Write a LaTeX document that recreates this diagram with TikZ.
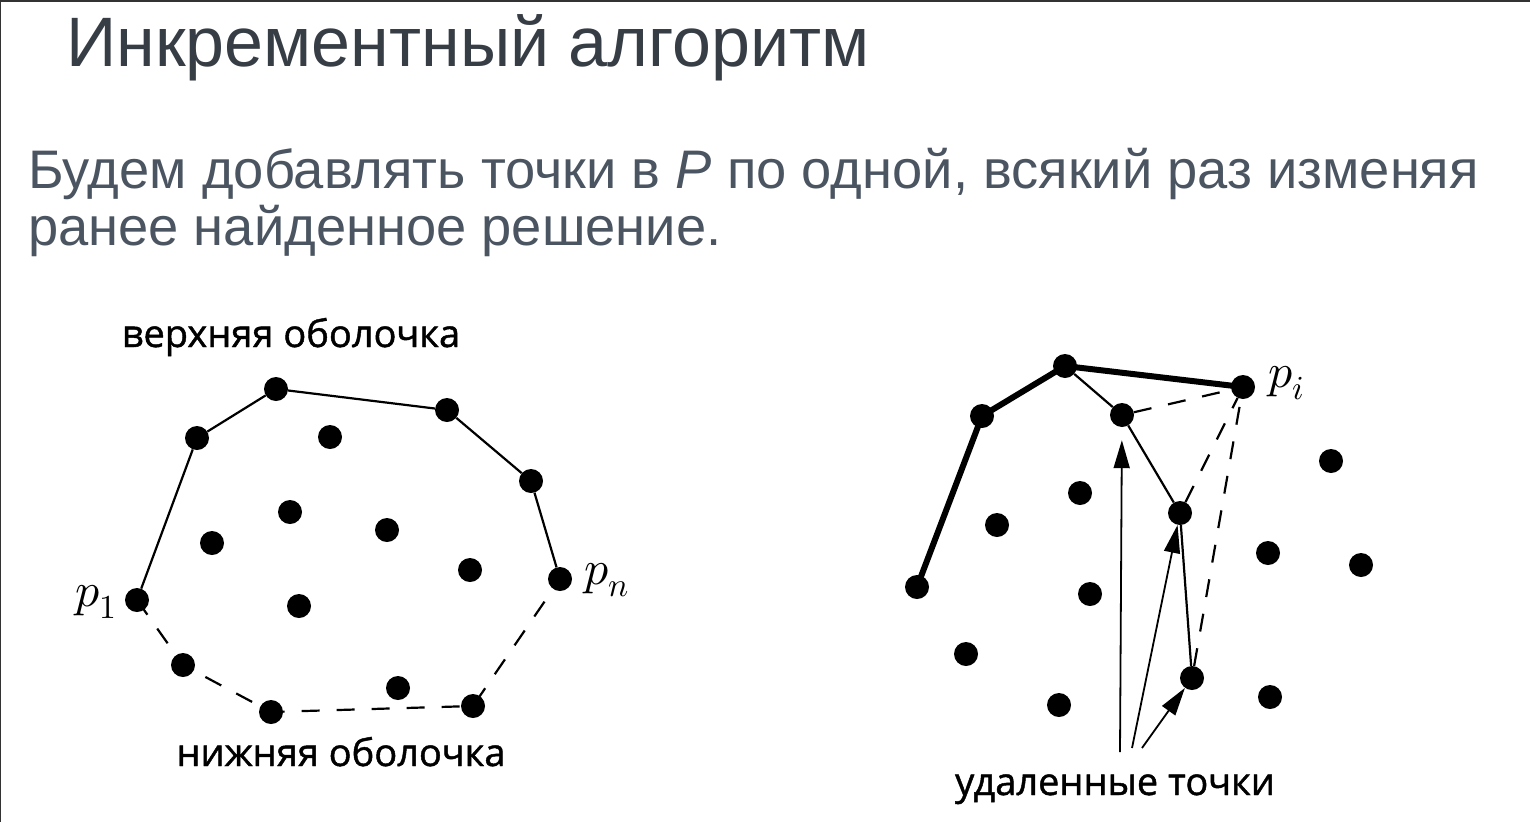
\documentclass[tikz,border=0pt]{standalone}
\usepackage{fontspec}
\usepackage{unicode-math}
\setmainfont{Liberation Sans}
\setmathfont{Latin Modern Math}
\newfontfamily\labelfont[FakeBold=1.2]{Open Sans}
\usepackage{xcolor}
\usetikzlibrary{arrows.meta}
\definecolor{TitleGray}{HTML}{363D45}
\definecolor{BodyGray}{HTML}{4A5561}

\tikzset{
  dot/.style={circle, fill=black, inner sep=0pt, minimum size=24pt},
  hull/.style={line width=2.2pt},
  bighull/.style={line width=6pt, line cap=round, line join=round},
  lowhull/.style={line width=2.2pt, dash pattern=on 18pt off 17pt},
  cue/.style={line width=1.8pt, -{Triangle[length=28pt,width=16pt]}},
  caption/.style={font=\labelfont\fontsize{38}{44}\selectfont, anchor=base, inner sep=0pt},
  plabel/.style={font=\fontsize{48}{54}\selectfont, inner sep=0pt}
}

\begin{document}
\begin{tikzpicture}[x=1pt,y=1pt,yscale=-1,xscale=1]
		\useasboundingbox (0,0) rectangle (1530,822);

		% Slide frame (top and left edges)
		\draw[line width=3pt, black!80] (0,0) -- (1530,0);
		\draw[line width=2pt, black!80] (0,0) -- (0,822);

		% Title and the two lines of text
		\node (title) [anchor=base west, inner sep=0pt, text=TitleGray, font=\fontsize{70}{84}\selectfont] at (66,66) {Инкрементный алгоритм};
		\node (line1) [anchor=base west, inner sep=0pt, text=BodyGray, font=\fontsize{54.3}{57}\selectfont] at (28,188) {Будем добавлять точки в \textit{P} по одной, всякий раз изменяя};
		\node (line2) [anchor=base west, inner sep=0pt, text=BodyGray, font=\fontsize{54.3}{57}\selectfont] at (28,245) {ранее найденное решение.};

		% Left picture: the points
		\node[dot] (p1) at (137,600) {};
		\node[dot] (u1) at (197,438) {};
		\node[dot] (u2) at (276,389) {};
		\node[dot] (u3) at (447,410) {};
		\node[dot] (u4) at (531,481) {};
		\node[dot] (pn) at (560,579) {};
		\node[dot] (l1) at (183,665) {};
		\node[dot] (l2) at (271,712) {};
		\node[dot] (l3) at (473,706) {};
		\foreach \x/\y [count=\k] in {330/437, 290/512, 387/530, 212/543, 470/570, 299/606, 398/688}
			\node[dot] (in\k) at (\x,\y) {};

		% Upper hull (solid) and lower hull (dashed)
		\draw[hull] (p1) -- (u1) -- (u2) -- (u3) -- (u4) -- (pn);
		\draw[lowhull] (p1.center) -- (l1.center) -- (l2.center) -- (l3.center) -- (pn.center);

		% Labels of the left picture
		\node[plabel, anchor=east] (lp1) at (117,602) {$p_1$};
		\node[plabel, anchor=west] (lpn) at (584,580) {$p_n$};
		\node[caption] (upcap) at (291,347) {верхняя оболочка};
		\node[caption] (lowcap) at (341,766) {нижняя оболочка};

		% Right picture: the points
		\node[dot] (r1) at (917,587) {};
		\node[dot] (r2) at (982,416) {};
		\node[dot] (r3) at (1065,366) {};
		\node[dot] (pi) at (1243,387) {};
		\node[dot] (d1) at (1122,415) {};
		\node[dot] (d2) at (1180,513) {};
		\node[dot] (d3) at (1192,678) {};
		\foreach \x/\y [count=\k] in {1331/461, 1080/493, 997/525, 1268/553, 1361/565, 1090/594, 966/654, 1059/705, 1270/697}
			\node[dot] (s\k) at (\x,\y) {};

		% New upper hull (thick), old chain (thin), tangents to p_i (dashed)
		\draw[bighull] (r1.center) -- (r2.center) -- (r3.center) -- (pi.center);
		\draw[hull] (r3) -- (d1) -- (d2) -- (d3);
		\draw[lowhull] (d1) -- (pi);
		\draw[lowhull] (d2) -- (pi);
		\draw[lowhull] (d3) -- (pi);

		% Arrows to the removed points
		\coordinate (a1) at (1120,752);
		\coordinate (a2) at (1132,748);
		\coordinate (a3) at (1142,748);
		\draw[cue, shorten >=13pt] (a1) -- (d1);
		\draw[cue] (a2) -- (d2);
		\draw[cue] (a3) -- (d3);

		% Labels of the right picture
		\node[plabel, anchor=west] (lpi) at (1268,383) {$p_i$};
		\node[caption] (remcap) at (1115,795) {удаленные точки};
	\end{tikzpicture}
\end{document}
